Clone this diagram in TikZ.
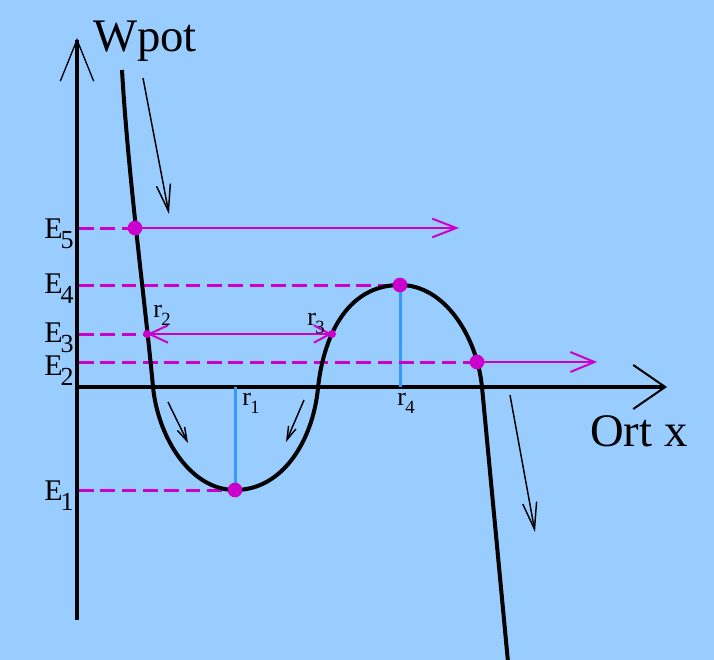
\documentclass[tikz,border=0pt]{standalone}
\usepackage{fontspec}
\setmainfont{Liberation Serif}
\usetikzlibrary{arrows.meta}
\definecolor{bgblue}{RGB}{153,204,255}
\definecolor{levelpink}{RGB}{204,0,204}
\definecolor{radblue}{RGB}{51,153,255}
\newcommand{\elab}[1]{E\kern-1.5pt\raisebox{-7.5pt}{\fontsize{19.5}{19.5}\selectfont #1}}
\newcommand{\rlab}[1]{r\kern-0.5pt\raisebox{-6.5pt}{\fontsize{14}{14}\selectfont #1}}

\begin{document}
\begin{tikzpicture}[x=0.75pt, y=-0.75pt,
    axisline/.style={line width=2.5pt},
    potline/.style={line width=3pt, line join=round},
    eguide/.style={levelpink, line width=2.25pt, dash pattern=on 11pt off 5pt},
    eline/.style={levelpink, line width=1.5pt},
    rline/.style={radblue, line width=2.25pt},
    bigdot/.style={circle, fill=levelpink, inner sep=0pt, minimum size=11pt},
    smalldot/.style={circle, fill=levelpink, inner sep=0pt, minimum size=6pt},
    hint/.style={line width=1.1pt},
    elabel/.style={anchor=base east, inner sep=0pt, font=\fontsize{22.5}{22.5}\selectfont},
    rlabel/.style={anchor=base west, inner sep=0pt, font=\fontsize{19.5}{19.5}\selectfont},
    axislabel/.style={anchor=base west, inner sep=0pt, font=\fontsize{35}{35}\selectfont}]

    \path[use as bounding box, fill=bgblue] (0,0) rectangle (714,660);

    \coordinate (ybot) at (77,620);
    \coordinate (ytip) at (77,38);
    \coordinate (O) at (77,387);
    \coordinate (xtip) at (667,387);

    \coordinate (e5) at (79,228);
    \coordinate (e4) at (79,285);
    \coordinate (e3) at (79,334);
    \coordinate (e2) at (79,362);
    \coordinate (e1) at (79,490);

    \coordinate (p5) at (135,228);
    \coordinate (p4) at (400,285);
    \coordinate (r2) at (147,334);
    \coordinate (r3) at (332,334);
    \coordinate (p2) at (477,362);
    \coordinate (p1) at (235,490);

    \coordinate (e5end) at (459,228);
    \coordinate (e2end) at (597,362);
    \coordinate (r1foot) at (235,387);
    \coordinate (r4foot) at (400,387);

    \draw[axisline, -{Straight Barb[length=31pt, width=25pt, line width=1pt]}] (ybot) -- (ytip);
    \draw[axisline, -{Straight Barb[length=24pt, width=33pt, line width=1.5pt]}] (O) -- (xtip);

    \draw[rline] (r1foot) -- (p1);
    \draw[rline] (p4) -- (r4foot);

    \draw[eguide] (e5) -- (p5);
    \draw[eguide] (e4) -- (p4);
    \draw[eguide] (e3) -- (r2);
    \draw[eguide] (e2) -- (p2);
    \draw[eguide] (e1) -- (p1);

    \draw[eline, -{Straight Barb[length=18pt, width=14pt]}] (p5) -- (e5end);
    \draw[eline, -{Straight Barb[length=18pt, width=15pt]}] (p2) -- (e2end);
    \draw[eline, {Straight Barb[length=14pt, width=13pt]}-{Straight Barb[length=12pt, width=13pt]}] (r2) -- (r3);

    \draw[potline] (122,70) .. controls (128,175) and (146,310) .. (153,387)
        .. controls (158,437) and (190,490) .. (p1)
        .. controls (283,490) and (313,440) .. (318,388)
        .. controls (323,340) and (345,285) .. (p4)
        .. controls (445,285) and (477,337) .. (482,387)
        -- (508,662);

    \draw[hint, -{Straight Barb[length=20pt, width=10.5pt]}] (143,78) coordinate (h1a) -- (169,214) coordinate (h1b);
    \draw[hint, -{Straight Barb[length=10pt, width=6pt]}] (168,402) coordinate (h2a) -- (188,443) coordinate (h2b);
    \draw[hint, -{Straight Barb[length=10pt, width=6pt]}] (304,400) coordinate (h3a) -- (286,442) coordinate (h3b);
    \draw[hint, -{Straight Barb[length=20pt, width=10.5pt]}] (510,395) coordinate (h4a) -- (535,532) coordinate (h4b);

    \node[bigdot] (d5) at (p5) {};
    \node[bigdot] (d4) at (p4) {};
    \node[bigdot] (d2) at (p2) {};
    \node[bigdot] (d1) at (p1) {};
    \node[smalldot] (dr2) at (r2) {};
    \node[smalldot] (dr3) at (r3) {};

    \node[axislabel] (wpot) at (93,52) {Wpot};
    \node[axislabel] (ortx) at (590,446) {Ort x};

    \node[elabel] (E5) at (74,238) {\elab{5}};
    \node[elabel] (E4) at (74,293) {\elab{4}};
    \node[elabel] (E3) at (74,342) {\elab{3}};
    \node[elabel] (E2) at (74,375) {\elab{2}};
    \node[elabel] (E1) at (74,500) {\elab{1}};

    \node[rlabel] (lr1) at (242,405) {\rlab{1}};
    \node[rlabel] (lr2) at (153,317) {\rlab{2}};
    \node[rlabel] (lr3) at (307,325) {\rlab{3}};
    \node[rlabel] (lr4) at (397,405) {\rlab{4}};
\end{tikzpicture}
\end{document}
